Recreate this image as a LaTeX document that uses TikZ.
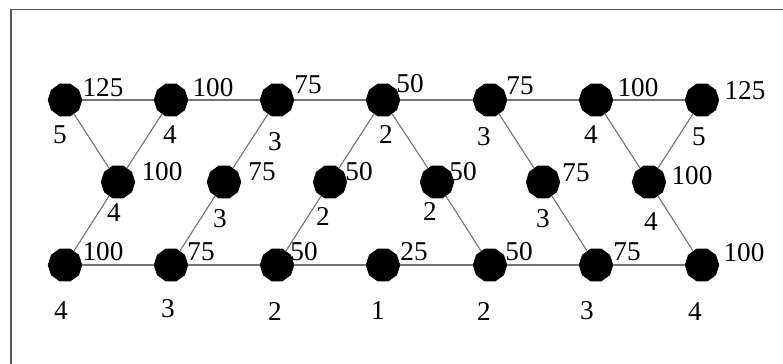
\documentclass[tikz,border=0pt]{standalone}
\usepackage{fontspec}
\setmainfont{Liberation Serif}
\usetikzlibrary{shapes.geometric}
\begin{document}
\begin{tikzpicture}[x=0.5pt,y=-0.5pt,
  vtx/.style={regular polygon, regular polygon sides=10, fill=black, draw=black, inner sep=0pt, minimum size=16.8pt},
  lab/.style={inner sep=0pt, font=\fontsize{13.6pt}{13.6pt}\selectfont},
  edge/.style={draw=black!55, line width=0.55pt},
  frame/.style={draw=black!65, line width=0.9pt}]
\useasboundingbox (0,0) rectangle (783,364);
\coordinate (fa) at (11,364);
\coordinate (fb) at (11,9.5);
\coordinate (fc) at (783,9.5);
\draw[frame] (fa) -- (fb) -- (fc);
% node positions
\foreach \i/\x in {1/65,2/171,3/277,4/383,5/490,6/596,7/702}{
  \coordinate (pT\i) at (\x,100);
  \coordinate (pB\i) at (\x,265);
}
\foreach \i/\x in {1/118,2/224,3/330,4/437,5/543,6/649}{
  \coordinate (pM\i) at (\x,182);
}
\foreach \i in {1,...,7}{ \node[vtx] (T\i) at (pT\i) {}; \node[vtx] (B\i) at (pB\i) {}; }
\foreach \i in {1,...,6}{ \node[vtx] (M\i) at (pM\i) {}; }
% edges
\draw[edge] (T1) -- (T2) -- (T3) -- (T4) -- (T5) -- (T6) -- (T7);
\draw[edge] (B1) -- (B2) -- (B3) -- (B4) -- (B5) -- (B6) -- (B7);
\draw[edge] (T1) -- (M1) -- (T2);
\draw[edge] (M1) -- (B1);
\draw[edge] (T3) -- (M2) -- (B2);
\draw[edge] (T4) -- (M3) -- (B3);
\draw[edge] (T4) -- (M4) -- (B5);
\draw[edge] (T5) -- (M5) -- (B6);
\draw[edge] (T6) -- (M6) -- (T7);
\draw[edge] (M6) -- (B7);
% top labels
\node[lab] (a1) at (103,88) {125};
\node[lab] (b1) at (60,135) {5};
\node[lab] (a2) at (213,88) {100};
\node[lab] (b2) at (170,135) {4};
\node[lab] (a3) at (308,85) {75};
\node[lab] (b3) at (275,142) {3};
\node[lab] (a4) at (410,84) {50};
\node[lab] (b4) at (386,134) {2};
\node[lab] (a5) at (520,86) {75};
\node[lab] (b5) at (484,137) {3};
\node[lab] (a6) at (638,88) {100};
\node[lab] (b6) at (591,135) {4};
\node[lab] (a7) at (745,91) {125};
\node[lab] (b7) at (699,137) {5};
% middle labels
\node[lab] (c1) at (162,172) {100};
\node[lab] (d1) at (114,213) {4};
\node[lab] (c2) at (262,172) {75};
\node[lab] (d2) at (220,219) {3};
\node[lab] (c3) at (359,172) {50};
\node[lab] (d3) at (323,216) {2};
\node[lab] (c4) at (463,172) {50};
\node[lab] (d4) at (430,211) {2};
\node[lab] (c5) at (576,173) {75};
\node[lab] (d5) at (543,219) {3};
\node[lab] (c6) at (692,176) {100};
\node[lab] (d6) at (651,222) {4};
% bottom labels
\node[lab] (e1) at (103,252) {100};
\node[lab] (f1) at (61,311) {4};
\node[lab] (e2) at (201,252) {75};
\node[lab] (f2) at (168,309) {3};
\node[lab] (e3) at (304,252) {50};
\node[lab] (f3) at (275,311) {2};
\node[lab] (e4) at (414,252) {25};
\node[lab] (f4) at (378,311) {1};
\node[lab] (e5) at (519,252) {50};
\node[lab] (f5) at (484,311) {2};
\node[lab] (e6) at (627,252) {75};
\node[lab] (f6) at (587,311) {3};
\node[lab] (e7) at (744,253) {100};
\node[lab] (f7) at (695,312) {4};
\end{tikzpicture}
\end{document}
